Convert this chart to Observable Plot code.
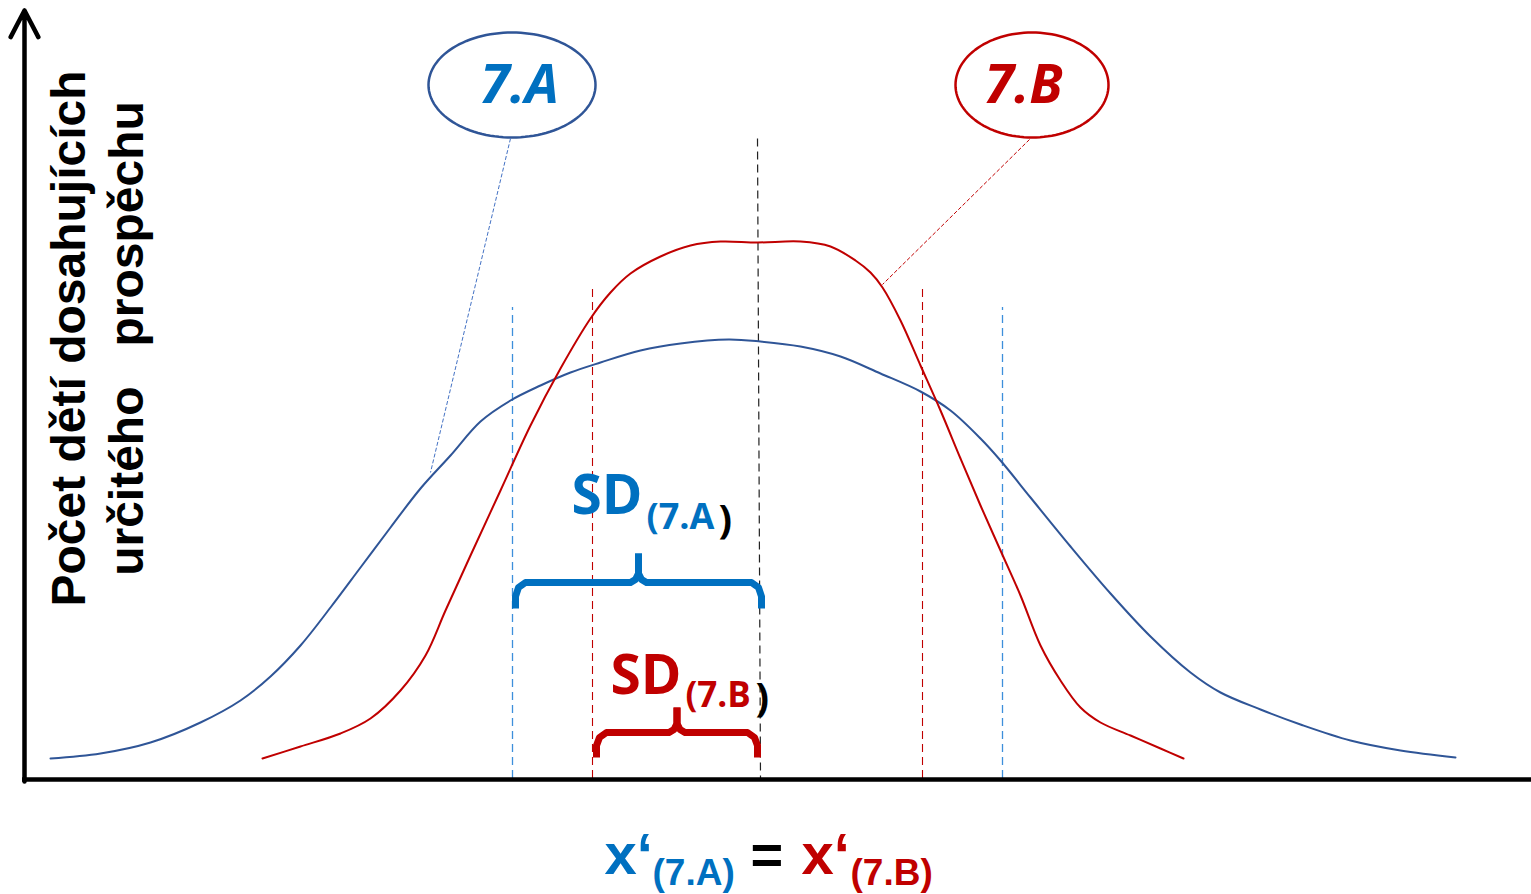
<!DOCTYPE html>
<html>
<head>
<meta charset="utf-8">
<script src="https://cdn.jsdelivr.net/npm/d3@7"></script>
<script src="https://cdn.jsdelivr.net/npm/@observablehq/plot@0.6"></script>
<style>
  html, body { margin: 0; padding: 0; background: #fff; overflow: hidden; }
  svg { display: block; }
</style>
</head>
<body>
<div id="chart"></div>
<script>
// Two classes with the same mean score but different spread.
const groups = ["7.A", "7.B"];

// Class 7.A: wide distribution (score, number of children)
const scoreA = [50, 100, 150, 200, 240, 270, 300, 330, 360, 390, 420, 450, 480, 510, 540, 570, 600, 640, 680, 728, 760, 800, 840, 880, 920, 950, 980, 1000, 1030, 1070, 1110, 1150, 1190, 1220, 1260, 1300, 1350, 1400, 1455];
const countA = [20, 25, 36, 56, 78, 102, 133, 171, 211, 251, 290, 323, 357, 378, 393, 406, 416, 428, 435, 439, 437, 432, 422, 405, 387, 368, 340, 318, 281, 232, 185, 142, 106, 86, 69, 54, 38, 28, 21];

// Class 7.B: narrow distribution
const scoreB = [262, 300, 340, 370, 400, 425, 445, 470, 500, 530, 560, 590, 610, 630, 660, 690, 720, 757, 800, 830, 855, 870, 882, 900, 920, 940, 960, 980, 1000, 1020, 1040, 1060, 1080, 1100, 1130, 1160, 1183];
const countB = [20, 32, 45, 60, 88, 123, 168, 223, 288, 353, 410, 460, 486, 505, 522, 533, 537, 536, 537, 532, 518, 506, 491, 458, 413, 368, 320, 273, 228, 183, 133, 98, 71, 56, 43, 30, 20];

// Shared mean and the standard deviation of each class
const mean = 757;
const sds = [245, 165];

const blueLine = "#2f5597";
const blueText = "#0070c0";
const blueDash = "#3d8fdb";
const red = "#c00000";

const seriesA = scoreA.map((x, i) => ({x, y: countA[i]}));
const seriesB = scoreB.map((x, i) => ({x, y: countB[i]}));

// Outline of an oval label
function oval(cx, cy, rx, ry) {
  return d3.range(0, 360, 3).map(a => {
    const t = a * Math.PI / 180;
    return {x: cx + rx * Math.cos(t), y: cy + ry * Math.sin(t)};
  });
}

// Curly brace spanning [x0, x1] at height y; ends hang down by h, the tip rises by t
function brace(x0, x1, y, h, t) {
  const m = (x0 + x1) / 2;
  const left = [[x0, y - h], [x0, y - h + 12], [x0 + 3, y - 5], [x0 + 10, y], [m - 8, y], [m - 3, y + 3], [m, y + 9], [m, y + t]];
  const right = [[m, y + t], [m, y + 9], [m + 3, y + 3], [m + 8, y], [x1 - 10, y], [x1 - 3, y - 5], [x1, y - h + 12], [x1, y - h]];
  return [...left.map(([x, yy]) => ({x, y: yy, side: "l"})), ...right.map(([x, yy]) => ({x, y: yy, side: "r"}))];
}

const sdA = sds[0], sdB = sds[1];
const boldSans = "Liberation Sans, Arial, sans-serif";
const open = "Open Sans, sans-serif";

const txt = (s, opts) => Plot.text([s], {text: d => d, textAnchor: "start", lineAnchor: "bottom", ...opts});

const chart = Plot.plot({
  width: 1531,
  height: 894,
  margin: 0,
  x: {domain: [0, 1531], axis: null},
  y: {domain: [-116, 778], axis: null},
  marks: [
    // standard deviation markers
    Plot.ruleX([mean - sdA, mean + sdA], {y1: 0, y2: 471, stroke: blueDash, strokeWidth: 1.3, strokeDasharray: "8,5"}),
    Plot.ruleX([mean - sdB, mean + sdB], {y1: 0, y2: 491, stroke: red, strokeWidth: 1.1, strokeDasharray: "8,5"}),
    // shared mean
    Plot.link([mean], {x1: d => d, x2: d => d + 3, y1: 640, y2: 0, stroke: "#222", strokeWidth: 1.2, strokeDasharray: "8,5"}),

    // distributions
    Plot.line(seriesA, {x: "x", y: "y", stroke: blueLine, strokeWidth: 2, curve: "catmull-rom"}),
    Plot.line(seriesB, {x: "x", y: "y", stroke: red, strokeWidth: 2, curve: "catmull-rom"}),

    // oval labels and their leaders
    Plot.line(oval(511.5, 693.5, 83.5, 52.5), {x: "x", y: "y", stroke: blueLine, strokeWidth: 2.5, curve: "linear-closed"}),
    Plot.line(oval(1031.5, 693.5, 76.5, 52.5), {x: "x", y: "y", stroke: red, strokeWidth: 2.5, curve: "linear-closed"}),
    Plot.link([0], {x1: 510, y1: 640, x2: 430, y2: 306, stroke: "#4472c4", strokeWidth: 1, strokeDasharray: "4,2"}),
    Plot.link([0], {x1: 1029, y1: 639, x2: 882, y2: 494, stroke: red, strokeWidth: 1, strokeDasharray: "4,2"}),
    txt(groups[0], {x: 519, y: 676, textAnchor: "middle", fill: blueText, fontSize: 54, fontWeight: "bold", fontStyle: "italic", fontFamily: open}),
    txt(groups[1], {x: 1023, y: 676, textAnchor: "middle", fill: red, fontSize: 54, fontWeight: "bold", fontStyle: "italic", fontFamily: open}),

    // braces: one standard deviation below the mean
    Plot.line(brace(mean - sdA + 3, mean + 4, 196, 26, 29), {x: "x", y: "y", z: "side", stroke: blueText, strokeWidth: 7, strokeLinejoin: "round", strokeLinecap: "butt"}),
    Plot.line(brace(mean - sdB + 4, mean, 46, 25, 25), {x: "x", y: "y", z: "side", stroke: red, strokeWidth: 7, strokeLinejoin: "round", strokeLinecap: "butt"}),

    // SD labels
    txt("SD", {x: 571, y: 265, fill: blueText, fontSize: 55, fontWeight: "bold", fontFamily: open}),
    txt("(" + groups[0], {x: 646, y: 250, fill: blueText, fontSize: 36, fontWeight: "bold", fontFamily: open}),
    txt(")", {x: 718, y: 246, fill: "#000", fontSize: 40, fontWeight: "bold", fontFamily: open}),
    txt("SD", {x: 610, y: 85, fill: red, fontSize: 55, fontWeight: "bold", fontFamily: open}),
    txt("(" + groups[1], {x: 685, y: 72, fill: red, fontSize: 35, fontWeight: "bold", fontFamily: open}),
    txt(")", {x: 755, y: 68, fill: "#000", fontSize: 40, fontWeight: "bold", fontFamily: open}),

    // axes
    Plot.ruleY([-1], {x1: 22, x2: 1531, stroke: "#000", strokeWidth: 4.5}),
    Plot.arrow([0], {x1: 24, y1: -3, x2: 24, y2: 768, stroke: "#000", strokeWidth: 4.5, headLength: 10, headAngle: 55, strokeLinecap: "round", strokeLinejoin: "round"}),

    // axis titles
    txt("Počet dětí dosahujících", {x: 84, y: 440, rotate: -90, textAnchor: "middle", fontSize: 48, fontWeight: "bold", fontFamily: boldSans, fill: "#000"}),
    txt("určitého\u00a0\u00a0\u00a0prospěchu", {x: 142, y: 440, rotate: -90, textAnchor: "middle", fontSize: 48, fontWeight: "bold", fontFamily: boldSans, fill: "#000"}),

    txt("x‘", {x: 604, y: -95, fill: blueText, fontSize: 58, fontWeight: "bold", fontFamily: boldSans}),
    txt("(" + groups[0] + ")", {x: 652, y: -106, fill: blueText, fontSize: 37, fontWeight: "bold", fontFamily: boldSans}),
    txt("=", {x: 750, y: -95, fill: "#000", fontSize: 56, fontWeight: "bold", fontFamily: boldSans}),
    txt("x‘", {x: 801, y: -95, fill: red, fontSize: 58, fontWeight: "bold", fontFamily: boldSans}),
    txt("(" + groups[1] + ")", {x: 850, y: -106, fill: red, fontSize: 37, fontWeight: "bold", fontFamily: boldSans})
  ]
});

document.getElementById("chart").append(chart);
</script>
</body>
</html>
